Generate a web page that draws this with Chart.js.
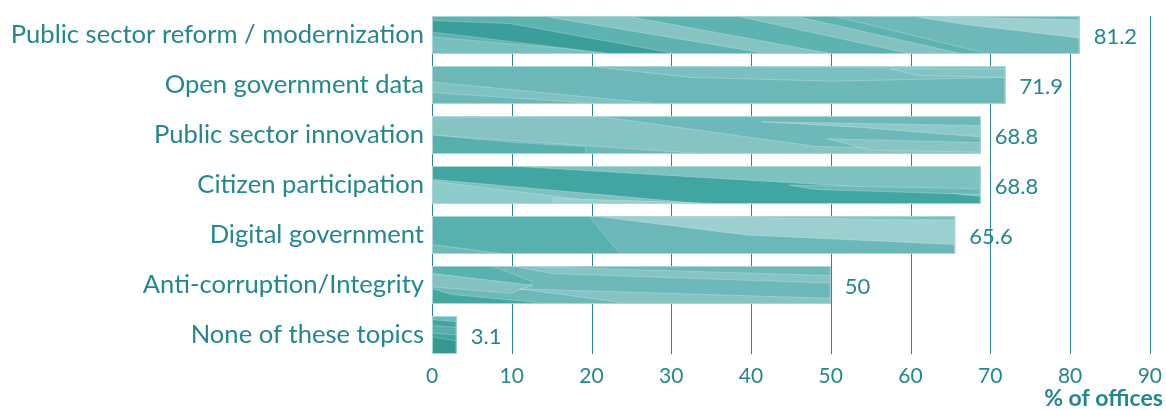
<!DOCTYPE html>
<html>
<head>
<meta charset="utf-8">
<script src="https://cdn.jsdelivr.net/npm/chart.js@4"></script>
<style>
  html, body { margin: 0; padding: 0; background: #fff; }
  #wrap { width: 1166px; height: 410px; position: relative; }
</style>
</head>
<body>
<div id="wrap"><canvas id="topics"></canvas></div>
<script>
const categories = [
  "Public sector reform / modernization",
  "Open government data",
  "Public sector innovation",
  "Citizen participation",
  "Digital government",
  "Anti-corruption/Integrity",
  "None of these topics",
];
const officeShares = [81.2, 71.9, 68.8, 68.8, 65.6, 50, 3.1];
const xTickValues = [0, 10, 20, 30, 40, 50, 60, 70, 80, 90];
const xAxisTitle = "% of offices";

const TEXT = "#24878e";
const GRID = "#2b8a91";
const FONT = "Lato, 'Open Sans', sans-serif";

// marbled fill for each bar: base colour plus bands in bar-relative coords (0..1)
const textures = [
  { base: "#5cb3b0", bands: [
    { c: "#78bfbe", p: [[0, 0.55], [0.3, 1], [0, 1]] },
    { c: "#3c9e9a", p: [[0, 0.12], [0.12, 0.2], [0.38, 1], [0.28, 1], [0, 0.42]] },
    { c: "#86c3c3", p: [[0.17, 0], [0.3, 0], [0.62, 1], [0.52, 1]] },
    { c: "#84c2c2", p: [[0.47, 0], [0.56, 0], [0.82, 1], [0.74, 1]] },
    { c: "#6db8b8", p: [[0.62, 0], [1, 0], [1, 1], [0.86, 1]] },
    { c: "#9ccfd0", p: [[0.74, 0], [1, 0.1], [1, 0.58], [0.82, 0.22]] },
  ] },
  { base: "#6cb8b8", bands: [
    { c: "#7bc0c0", p: [[0.27, 0], [1, 0.05], [1, 0.3], [0.7, 0.4], [0.45, 0.3]] },
    { c: "#84c3c3", p: [[0.8, 0.08], [1, 0.08], [1, 0.3], [0.85, 0.25]] },
    { c: "#80c1c1", p: [[0, 0.42], [0.4, 1], [0.3, 1], [0, 0.7]] },
  ] },
  { base: "#6db8b8", bands: [
    { c: "#86c3c3", p: [[0, 0.05], [0.3, 0], [0.7, 0.8], [1, 0.9], [1, 1], [0.5, 1], [0, 0.5]] },
    { c: "#58b0ad", p: [[0, 0.5], [0.15, 0.7], [0.28, 0.8], [0.28, 1], [0, 1]] },
    { c: "#8ec9c9", p: [[0.6, 0.15], [1, 0.25], [1, 0.55], [0.78, 0.3]] },
    { c: "#88c4c4", p: [[0.72, 0.6], [1, 0.7], [1, 0.95], [0.8, 0.9]] },
  ] },
  { base: "#7fc0c0", bands: [
    { c: "#41a5a1", p: [[0, 0], [0.14, 0], [0.9, 0.65], [1, 0.8], [1, 1], [0.5, 1], [0, 0.35]] },
    { c: "#8ecbcb", p: [[0, 0.4], [0.34, 1], [0, 1]] },
    { c: "#9ccfd0", p: [[0.22, 0.85], [0.55, 1], [0.22, 1]] },
    { c: "#6cb8b8", p: [[0.65, 0.5], [1, 0.6], [1, 0.75], [0.7, 0.62]] },
  ] },
  { base: "#58b1ae", bands: [
    { c: "#6cb8b8", p: [[0.3, 0], [1, 0.05], [1, 1], [0.36, 1], [0.33, 0.5]] },
    { c: "#9ccfd0", p: [[0.31, 0], [1, 0.1], [1, 0.75], [0.6, 0.5]] },
    { c: "#6fbab9", p: [[0, 0.75], [0.14, 1], [0, 1]] },
  ] },
  { base: "#6db8b8", bands: [
    { c: "#5ab2af", p: [[0, 0], [0.15, 0], [0.25, 0.4], [0.25, 0.55], [0, 0.2]] },
    { c: "#86c3c3", p: [[0.2, 0], [1, 0.25], [1, 0.45], [0.3, 0.2]] },
    { c: "#84c2c2", p: [[0, 0.2], [0.25, 0.5], [0.2, 0.72], [0, 0.55]] },
    { c: "#86c3c3", p: [[0.22, 0.6], [1, 0.85], [1, 1], [0.5, 1]] },
    { c: "#44a5a1", p: [[0, 0.6], [0.05, 0.75], [0.3, 1], [0, 1]] },
  ] },
  { base: "#43a39f", bands: [
    { c: "#6db8b8", p: [[0, 0], [1, 0], [1, 0.15], [0, 0.1]] },
    { c: "#58b0ad", p: [[0, 0.25], [1, 0.3], [1, 0.5], [0, 0.45]] },
    { c: "#35998f", p: [[0, 0.55], [1, 0.65], [1, 1], [0, 1]] },
  ] },
];

const marble = {
  id: "marble",
  beforeDatasetsDraw(chart) {
    // vertical gridlines spanning the bar block, under the bars
    const { ctx, scales: { x } } = chart;
    const bars = chart.getDatasetMeta(0).data;
    const first = bars[0], last = bars[bars.length - 1];
    const top = first.y - first.height / 2;
    const bottom = last.y + last.height / 2;
    ctx.save();
    ctx.strokeStyle = GRID;
    ctx.lineWidth = 1;
    xTickValues.forEach(v => {
      const px = Math.round(x.getPixelForValue(v)) + 0.5;
      ctx.beginPath();
      ctx.moveTo(px, top);
      ctx.lineTo(px, bottom);
      ctx.stroke();
    });
    ctx.restore();
  },
  afterDatasetsDraw(chart) {
    const { ctx } = chart;
    const bars = chart.getDatasetMeta(0).data;
    bars.forEach((bar, i) => {
      const left = bar.base, w = bar.x - bar.base, h = bar.height, top = bar.y - h / 2;
      const tex = textures[i % textures.length];
      ctx.save();
      ctx.beginPath();
      ctx.rect(left, top, w, h);
      ctx.clip();
      tex.bands.forEach(b => {
        ctx.beginPath();
        b.p.forEach(([fx, fy], k) => {
          const px = left + fx * w, py = top + fy * h;
          if (k === 0) ctx.moveTo(px, py); else ctx.lineTo(px, py);
        });
        ctx.closePath();
        ctx.fillStyle = b.c;
        ctx.fill();
        ctx.strokeStyle = "rgba(255,255,255,0.3)";
        ctx.lineWidth = 0.8;
        ctx.stroke();
      });
      ctx.restore();

      ctx.save();
      ctx.strokeStyle = "#a9d6d6";
      ctx.lineWidth = 1;
      ctx.strokeRect(left + 0.5, top + 0.5, w - 1, h - 1);
      ctx.fillStyle = TEXT;
      ctx.font = "22px " + FONT;
      ctx.textAlign = "left";
      ctx.textBaseline = "middle";
      ctx.fillText(String(officeShares[i]), bar.x + 14, bar.y + 2);
      ctx.restore();
    });
  },
  afterDraw(chart) {
    const { ctx, chartArea } = chart;
    ctx.save();
    ctx.fillStyle = TEXT;
    ctx.font = "bold 23px " + FONT;
    ctx.textAlign = "right";
    ctx.textBaseline = "middle";
    ctx.fillText(xAxisTitle, chartArea.right + 13, 399);
    ctx.restore();
  },
};

new Chart(document.getElementById("topics"), {
  type: "bar",
  data: {
    labels: categories,
    datasets: [{
      data: officeShares,
      backgroundColor: textures.map(t => t.base),
      borderWidth: 0,
      categoryPercentage: 1,
      barPercentage: 0.76,
    }],
  },
  options: {
    indexAxis: "y",
    responsive: true,
    maintainAspectRatio: false,
    animation: false,
    layout: { padding: { top: 10, right: 16, left: 0, bottom: 0 } },
    plugins: {
      legend: { display: false },
      tooltip: { enabled: false },
    },
    scales: {
      x: {
        min: 0,
        max: 90,
        afterBuildTicks: scale => {
          scale.ticks = xTickValues.map(v => ({ value: v }));
        },
        afterFit: scale => { scale.height = 50; },
        grid: { display: false, drawTicks: false },
        border: { display: false },
        ticks: {
          color: TEXT,
          padding: 4,
          font: { family: FONT, size: 21 },
        },
      },
      y: {
        afterFit: scale => {
          scale.width = 432;
          scale.paddingTop = 0;
          scale.paddingBottom = 0;
        },
        grid: { display: false, drawTicks: false },
        border: { display: false },
        ticks: {
          color: TEXT,
          padding: 8,
          font: { family: FONT, size: 25.6 },
        },
      },
    },
  },
  plugins: [marble],
});
</script>
</body>
</html>
